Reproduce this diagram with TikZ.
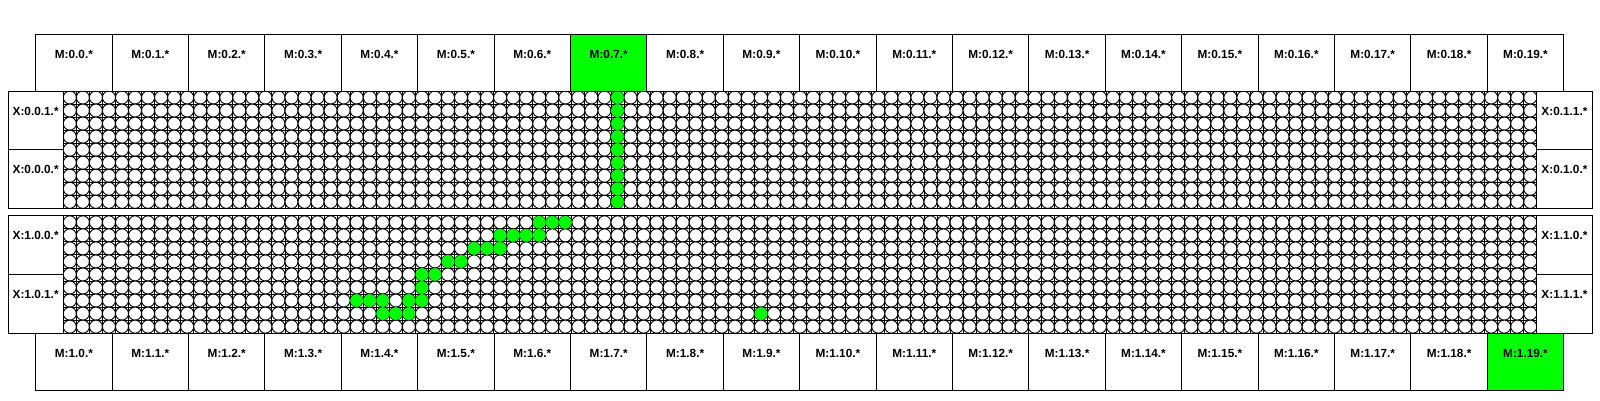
\documentclass[tikz,border=0pt]{standalone}
\usepackage{fontspec}
\setmainfont{Liberation Sans}
\definecolor{hlgreen}{HTML}{00FF00}
\begin{document}
\begin{tikzpicture}[x=1pt,y=-1pt,
  box/.style={draw=black,line width=1pt,inner sep=0pt,outer sep=0pt,anchor=north west},
  lbl/.style={font=\fontsize{11.8}{13}\selectfont\bfseries,inner sep=0pt,anchor=base},
  gridline/.style={draw=black,line width=0.9pt},
  cellc/.style={draw=black,line width=0.9pt,fill=white},
  hit/.style={draw=hlgreen,line width=0.3pt,fill=hlgreen},
  frame/.style={draw=black,line width=1pt}]
\def\S{13.04}
\def\GX{63.3}
\def\H{117.36}
\useasboundingbox (0,0) rectangle (1600,400);
\fill[white] (0,0) rectangle (1600,400);

% ---- grids of the two panels
\foreach \T in {91,215.8}{
  \foreach \c in {0,...,113}{\draw[gridline] (\GX+\c*\S,\T) -- ++(0,\H);}
  \foreach \r in {0,...,9}{\draw[gridline] (\GX,\T+\r*\S) -- ++(113*\S,0);}
  \foreach \c in {0,...,112}{
    \foreach \r in {0,...,8}{
      \draw[cellc] (\GX+\c*\S+0.5*\S,\T+\r*\S+0.5*\S) circle[radius=6.52pt];
    }
  }
}
% ---- active cells
\foreach \r in {0,...,8}{\filldraw[hit] (\GX+42.5*\S,91+\r*\S+0.5*\S) circle[radius=6.2pt];}
\foreach \c/\r in {36/0,37/0,38/0,33/1,34/1,35/1,36/1,31/2,32/2,33/2,29/3,30/3,
                   27/4,28/4,27/5,22/6,23/6,24/6,26/6,27/6,24/7,25/7,26/7,53/7}{
  \filldraw[hit] (\GX+\c*\S+0.5*\S,215.8+\r*\S+0.5*\S) circle[radius=6.2pt];
}

% ---- top M boxes
\foreach \i in {0,...,19}{
  \ifnum\i=7 \def\fc{hlgreen}\else\def\fc{white}\fi
  \node[box,fill=\fc,minimum width=76.4pt,minimum height=57pt] (mt\i) at (35.7+\i*76.4,34) {};
  \node[lbl] (lt\i) at (35.7+\i*76.4+38.2,58) {M:0.\i.*};
}
% ---- bottom M boxes
\foreach \i in {0,...,19}{
  \ifnum\i=19 \def\fc{hlgreen}\else\def\fc{white}\fi
  \node[box,fill=\fc,minimum width=76.4pt,minimum height=56.8pt] (mb\i) at (35.7+\i*76.4,333.2) {};
  \node[lbl] (lb\i) at (35.7+\i*76.4+38.2,357.7) {M:1.\i.*};
}

% ---- X boxes, panel 0
\node[box,fill=white,minimum width=55.3pt,minimum height=58.7pt] (x001) at (8,91) {};
\node[box,fill=white,minimum width=55.3pt,minimum height=58.7pt] (x000) at (8,149.7) {};
\node[box,fill=white,minimum width=55.2pt,minimum height=58.7pt] (x011) at (1536.8,91) {};
\node[box,fill=white,minimum width=55.2pt,minimum height=58.7pt] (x010) at (1536.8,149.7) {};
\node[lbl] (lx001) at (35.65,115) {X:0.0.1.*};
\node[lbl] (lx000) at (35.65,173.7) {X:0.0.0.*};
\node[lbl] (lx011) at (1564.4,115) {X:0.1.1.*};
\node[lbl] (lx010) at (1564.4,173.7) {X:0.1.0.*};
% ---- X boxes, panel 1
\node[box,fill=white,minimum width=55.3pt,minimum height=58.7pt] (x100) at (8,215.8) {};
\node[box,fill=white,minimum width=55.3pt,minimum height=58.7pt] (x101) at (8,274.5) {};
\node[box,fill=white,minimum width=55.2pt,minimum height=58.7pt] (x110) at (1536.8,215.8) {};
\node[box,fill=white,minimum width=55.2pt,minimum height=58.7pt] (x111) at (1536.8,274.5) {};
\node[lbl] (lx100) at (35.65,239.8) {X:1.0.0.*};
\node[lbl] (lx101) at (35.65,298.5) {X:1.0.1.*};
\node[lbl] (lx110) at (1564.4,239.8) {X:1.1.0.*};
\node[lbl] (lx111) at (1564.4,298.5) {X:1.1.1.*};

% ---- panel frames
\draw[frame] (8,91) rectangle (1592,91+\H);
\draw[frame] (8,215.8) rectangle (1592,215.8+\H);
\end{tikzpicture}
\end{document}
